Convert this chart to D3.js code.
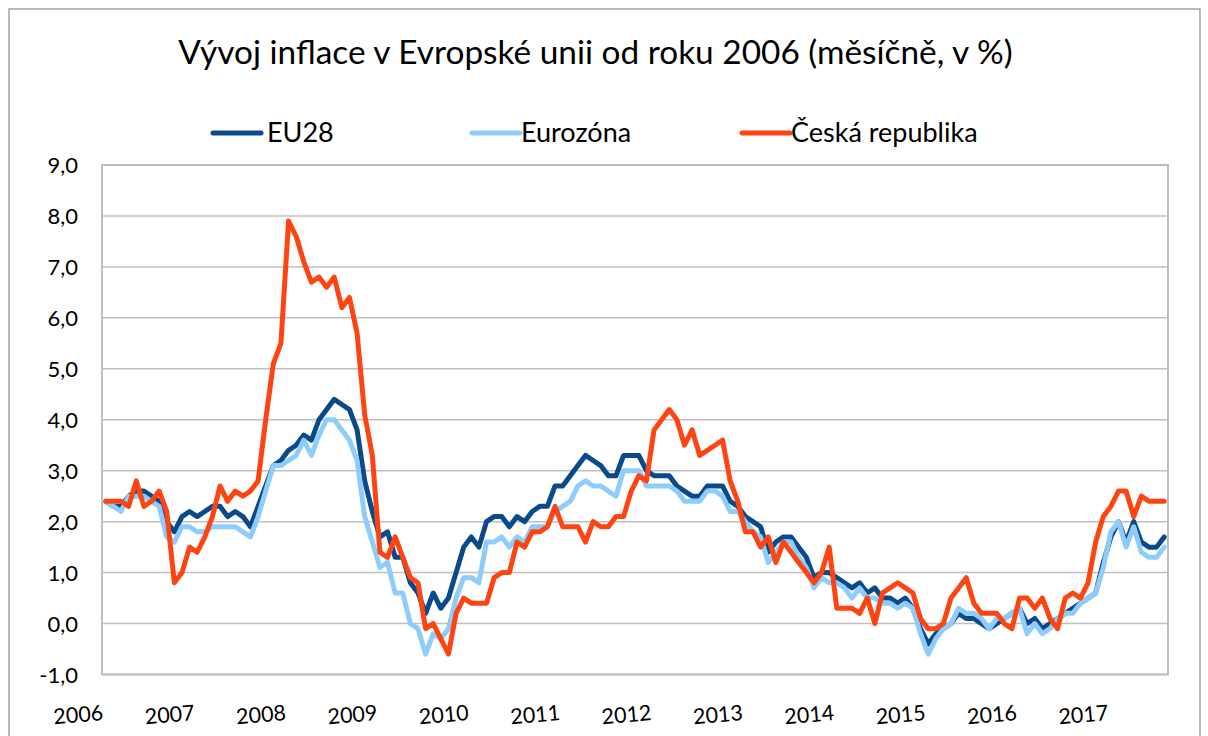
<!DOCTYPE html>
<html><head><meta charset="utf-8">
<script src="https://cdn.jsdelivr.net/npm/d3@7"></script>
<style>body{margin:0;background:#fff}svg{display:block}</style>
</head><body>
<svg id="chart" width="1208" height="736"></svg>
<script>
const title = "Vývoj inflace v Evropské unii od roku 2006 (měsíčně, v %)";
const years = ["2006","2007","2008","2009","2010","2011","2012","2013","2014","2015","2016","2017"];
const seriesNames = ["EU28","Eurozóna","Česká republika"];
const yTicks = [-1,0,1,2,3,4,5,6,7,8,9];

const eu28 = [
2.4,2.3,2.3,2.5,2.6,2.6,2.5,2.4,2.0,1.8,2.1,2.2,
2.1,2.2,2.3,2.3,2.1,2.2,2.1,1.9,2.3,2.7,3.1,3.2,
3.4,3.5,3.7,3.6,4.0,4.2,4.4,4.3,4.2,3.8,2.8,2.2,
1.7,1.8,1.3,1.3,0.8,0.6,0.2,0.6,0.3,0.5,1.0,1.5,
1.7,1.5,2.0,2.1,2.1,1.9,2.1,2.0,2.2,2.3,2.3,2.7,
2.7,2.9,3.1,3.3,3.2,3.1,2.9,2.9,3.3,3.3,3.3,3.0,
2.9,2.9,2.9,2.7,2.6,2.5,2.5,2.7,2.7,2.7,2.4,2.3,
2.1,2.0,1.9,1.4,1.6,1.7,1.7,1.5,1.3,0.9,1.0,1.0,
0.9,0.8,0.7,0.8,0.6,0.7,0.5,0.5,0.4,0.5,0.3,-0.1,
-0.4,-0.2,-0.1,0.0,0.2,0.1,0.1,0.0,-0.1,0.0,0.1,0.2,
0.3,0.0,0.1,-0.1,0.0,0.1,0.2,0.3,0.4,0.5,0.6,1.2,
1.7,2.0,1.6,2.0,1.6,1.5,1.5,1.7];

const eurozona = [
2.4,2.3,2.2,2.5,2.5,2.5,2.4,2.3,1.7,1.6,1.9,1.9,
1.8,1.8,1.9,1.9,1.9,1.9,1.8,1.7,2.1,2.6,3.1,3.1,
3.2,3.3,3.6,3.3,3.7,4.0,4.0,3.8,3.6,3.2,2.1,1.6,
1.1,1.2,0.6,0.6,0.0,-0.1,-0.6,-0.2,-0.3,-0.1,0.5,0.9,
0.9,0.8,1.6,1.6,1.7,1.5,1.7,1.6,1.9,1.9,1.9,2.2,
2.3,2.4,2.7,2.8,2.7,2.7,2.6,2.5,3.0,3.0,3.0,2.7,
2.7,2.7,2.7,2.6,2.4,2.4,2.4,2.6,2.6,2.5,2.2,2.2,
2.0,1.8,1.7,1.2,1.4,1.6,1.6,1.3,1.1,0.7,0.9,0.8,
0.8,0.7,0.5,0.7,0.5,0.5,0.4,0.4,0.3,0.4,0.3,-0.2,
-0.6,-0.3,-0.1,0.0,0.3,0.2,0.2,0.1,-0.1,0.1,0.1,0.2,
0.3,-0.2,0.0,-0.2,-0.1,0.1,0.2,0.2,0.4,0.5,0.6,1.1,
1.8,2.0,1.5,1.9,1.4,1.3,1.3,1.5];

const ceskaRepublika = [
2.4,2.4,2.4,2.3,2.8,2.3,2.4,2.6,2.2,0.8,1.0,1.5,
1.4,1.7,2.1,2.7,2.4,2.6,2.5,2.6,2.8,4.0,5.1,5.5,
7.9,7.6,7.1,6.7,6.8,6.6,6.8,6.2,6.4,5.7,4.1,3.3,
1.4,1.3,1.7,1.3,0.9,0.8,-0.1,0.0,-0.3,-0.6,0.2,0.5,
0.4,0.4,0.4,0.9,1.0,1.0,1.6,1.5,1.8,1.8,1.9,2.3,
1.9,1.9,1.9,1.6,2.0,1.9,1.9,2.1,2.1,2.6,2.9,2.8,
3.8,4.0,4.2,4.0,3.5,3.8,3.3,3.4,3.5,3.6,2.8,2.4,
1.8,1.8,1.5,1.7,1.2,1.6,1.4,1.2,1.0,0.8,1.0,1.5,
0.3,0.3,0.3,0.2,0.5,0.0,0.6,0.7,0.8,0.7,0.6,0.1,
-0.1,-0.1,0.0,0.5,0.7,0.9,0.4,0.2,0.2,0.2,0.0,-0.1,
0.5,0.5,0.3,0.5,0.1,-0.1,0.5,0.6,0.5,0.8,1.6,2.1,
2.3,2.6,2.6,2.1,2.5,2.4,2.4,2.4];

// month categories built from years
const months = [];
years.forEach(y => { for (let m = 1; m <= 12; m++) months.push(y + "-" + String(m).padStart(2,"0")); });
const categories = months.slice(0, eu28.length);

const colors = ["#0a4a8a", "#8ecdfb", "#fe4412"];
const seriesData = [eu28, eurozona, ceskaRepublika];

const svg = d3.select("#chart");
const plot = {left: 102, right: 1168, top: 165, bottom: 674.5};
const FONT = "Lato, 'Open Sans', sans-serif";

// outer frame
svg.append("rect").attr("x", 9).attr("y", 9).attr("width", 1191).attr("height", 760)
  .attr("fill", "none").attr("stroke", "#8a8a8a").attr("stroke-width", 1.2);

const x = d3.scalePoint().domain(categories).range([plot.left, plot.right]).padding(0.5);
const y = d3.scaleLinear().domain([-1, 9]).range([plot.bottom, plot.top]);

// gridlines
svg.append("g").selectAll("line").data(yTicks).join("line")
  .attr("x1", plot.left).attr("x2", plot.right)
  .attr("y1", d => y(d)).attr("y2", d => y(d))
  .attr("stroke", "#c0c0c0").attr("stroke-width", 1.5);

// plot border
svg.append("rect").attr("x", plot.left).attr("y", plot.top)
  .attr("width", plot.right - plot.left).attr("height", plot.bottom - plot.top)
  .attr("fill", "none").attr("stroke", "#bdbdbd").attr("stroke-width", 2);

// y axis
const yAxis = d3.axisLeft(y).tickValues(yTicks).tickSize(0).tickPadding(0)
  .tickFormat(d => d.toFixed(1).replace(".", ","));
const gy = svg.append("g").attr("transform", `translate(78,0)`).call(yAxis);
gy.select(".domain").remove();
gy.selectAll("text").attr("font-family", FONT).attr("font-size", 22).attr("fill", "#000").attr("dy", "0.35em");

// x axis
const janCats = years.map(yv => yv + "-01");
const xAxis = d3.axisBottom(x).tickValues(janCats).tickSize(0)
  .tickFormat(d => d.slice(0, 4));
const gx = svg.append("g").call(xAxis);
gx.select(".domain").remove();
gx.selectAll(".tick").attr("transform", null);
gx.selectAll(".tick text")
  .attr("font-family", FONT).attr("font-size", 21.5).attr("fill", "#000")
  .attr("text-anchor", "end").attr("dy", null)
  .attr("x", d => x(d) - 2).attr("y", 720)
  .attr("transform", d => `rotate(-5, ${x(d) - 2}, 720)`);

// lines
const line = d3.line().x((d, i) => x(categories[i])).y(d => y(d));
seriesData.forEach((s, k) => {
  svg.append("path").datum(s).attr("d", line)
    .attr("fill", "none").attr("stroke", colors[k]).attr("stroke-width", 5)
    .attr("stroke-linejoin", "round").attr("stroke-linecap", "round");
});

// title
svg.append("text").attr("x", 595.5).attr("y", 64).attr("text-anchor", "middle")
  .attr("font-family", FONT).attr("font-size", 33.4).attr("fill", "#000").text(title);

// legend
const legendPos = [{lx: 213, tx: 267}, {lx: 472, tx: 521}, {lx: 742, tx: 791}];
const lg = svg.append("g");
seriesNames.forEach((n, k) => {
  lg.append("line").attr("x1", legendPos[k].lx).attr("x2", legendPos[k].lx + 48)
    .attr("y1", 133).attr("y2", 133).attr("stroke", colors[k]).attr("stroke-width", 5)
    .attr("stroke-linecap", "round");
  lg.append("text").attr("x", legendPos[k].tx).attr("y", 133).attr("dy", "0.35em")
    .attr("font-family", FONT).attr("font-size", 27).attr("fill", "#000").text(n);
});
</script>
</body></html>
